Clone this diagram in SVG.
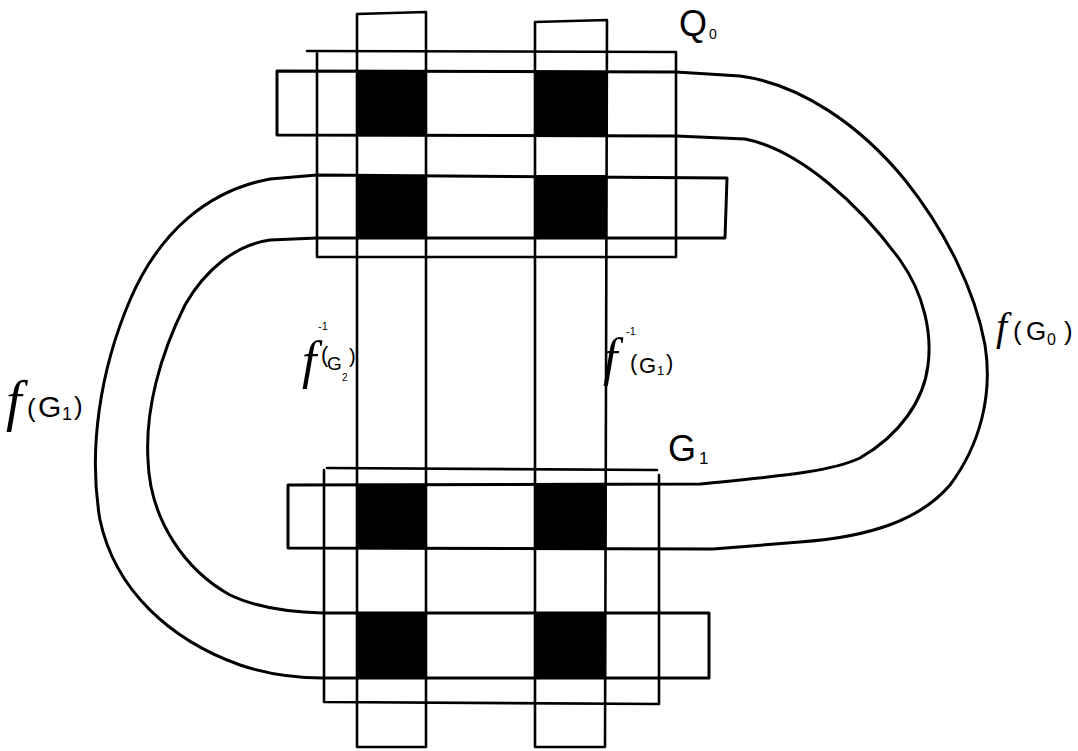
<svg xmlns="http://www.w3.org/2000/svg" width="1078" height="751" viewBox="0 0 1078 751">
<style>
.ln{fill:none;stroke:#000;stroke-width:2.6;stroke-linejoin:round;stroke-linecap:round}
.arc{fill:none;stroke:#000;stroke-width:3;stroke-linejoin:round;stroke-linecap:round}
.blk{fill:#000}
.t{font-family:"Liberation Sans",Arial,sans-serif;fill:#000}
.fi{font-family:"Liberation Serif","Times New Roman",serif;font-style:italic}
</style>
<rect width="1078" height="751" fill="#fff"/>
<g id="black-cells">
<rect class="blk" x="357" y="71" width="69" height="64"/>
<rect class="blk" x="535" y="71" width="72" height="64"/>
<rect class="blk" x="357" y="175" width="69" height="63"/>
<rect class="blk" x="535" y="175" width="72" height="63"/>
<rect class="blk" x="357" y="485" width="69" height="63"/>
<rect class="blk" x="535" y="485" width="71" height="63"/>
<rect class="blk" x="357" y="613" width="69" height="65"/>
<rect class="blk" x="535" y="613" width="71" height="65"/>
</g>
<g id="vertical-strips">
<path class="ln" d="M357,747 L357,14 L426,12 L426,747 Z"/>
<path class="ln" d="M535,747 L535,22 L607,20 L605,747 Z"/>
</g>
<g id="Q0">
<path class="ln" d="M307,51 L676,52 M317,52 L317,257 L676,257 L676,52"/>
<text class="t" x="679" y="36" font-size="36">Q<tspan x="709" y="39" font-size="14">0</tspan></text>
</g>
<g id="G1">
<path class="ln" d="M327,468 L657,470 M324,470 L324,702 L659,704 L659,475"/>
<text class="t" x="668" y="461" font-size="36">G<tspan x="699" y="464" font-size="17">1</tspan></text>
</g>
<g id="connectors">
<path id="f-G0" class="arc" d="M277,71 L676,72 L740,76 C800,84 860,125 905,180 C945,230 975,290 985,345 C993,395 980,445 950,485 C920,520 870,537 800,542 L713,549 L288,548 L288,485 L700,484 C780,476 830,472 860,458 C900,435 924,400 928,365 C932,335 925,295 900,260 C860,205 800,150 745,139 L676,136 L277,135 Z"/>
<path id="f-G1" class="arc" d="M727,178 L317,175 L270,179 C210,190 160,230 130,300 C100,370 88,450 100,520 C115,590 170,640 240,665 C270,675 295,678 323,678 L709,678 L709,613 L323,613 C285,612 255,607 230,595 C185,570 150,520 148,460 C145,410 160,355 185,305 C205,270 235,245 270,240 L317,238 L725,238 Z"/>
</g>
<g id="labels">
<text class="t" y="340" font-size="26"><tspan class="fi" x="996" font-size="40">f</tspan><tspan x="1013">(</tspan><tspan x="1026">G</tspan><tspan x="1047" y="345" font-size="16">0</tspan><tspan x="1064" y="340">)</tspan></text>
<text class="t" y="417" font-size="30"><tspan class="fi" x="6" y="420" font-size="56">f</tspan><tspan x="27" y="417" font-size="26">(</tspan><tspan x="38" y="417" font-size="30">G</tspan><tspan x="62" y="420" font-size="18">1</tspan><tspan x="74" y="415" font-size="26">)</tspan></text>
<text class="t" y="370" font-size="22"><tspan class="fi" x="302" y="378" font-size="52">f</tspan><tspan x="318" y="330" font-size="11">-1</tspan><tspan x="321" y="362">(</tspan><tspan x="327" y="370" font-size="19">G</tspan><tspan x="342" y="381" font-size="10">2</tspan><tspan x="349" y="363" font-size="20">)</tspan></text>
<text class="t" y="370" font-size="22"><tspan class="fi" x="603" y="375" font-size="52">f</tspan><tspan x="626" y="335" font-size="11">-1</tspan><tspan x="630" y="370">(</tspan><tspan x="639" y="373">G</tspan><tspan x="657" y="375" font-size="13">1</tspan><tspan x="666" y="370">)</tspan></text>
</g>
</svg>
